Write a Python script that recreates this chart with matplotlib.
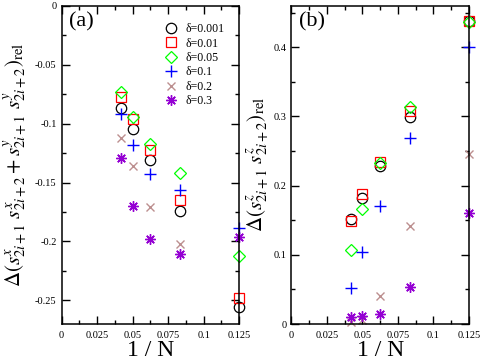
import numpy as np
import matplotlib
matplotlib.use("Agg")
import matplotlib.pyplot as plt
from matplotlib.ticker import MultipleLocator, FuncFormatter

plt.rcParams['font.family'] = ['Liberation Serif', 'DejaVu Serif']
plt.rcParams['mathtext.fontset'] = 'stix'
plt.rcParams['axes.unicode_minus'] = False

# 1/N for N = 24, 20, 16, 12, 8
inv_n = [1/24, 1/20, 1/16, 1/12, 1/8]

deltas = ["δ=0.001", "δ=0.01", "δ=0.05", "δ=0.1", "δ=0.2", "δ=0.3"]

# panel (a): xy correlation
xy_d0001 = [-0.0867, -0.1048, -0.1305, -0.1743, -0.2554]
xy_d001 = [-0.0777, -0.0963, -0.1226, -0.1644, -0.2483]
xy_d005 = [-0.0734, -0.0940, -0.1175, -0.1415, -0.2127]
xy_d01 = [-0.0915, -0.1178, -0.1427, -0.1560, -0.1884]
xy_d02 = [-0.1119, -0.1362, -0.1709, -0.2025, np.nan]
xy_d03 = [-0.1294, -0.1698, -0.1983, -0.2110, -0.1966]

# panel (b): zz correlation
zz_d0001 = [0.1518, 0.1817, 0.2289, 0.2998, 0.4386]
zz_d001 = [0.1494, 0.1880, 0.2347, 0.3084, 0.4380]
zz_d005 = [0.1070, 0.1658, 0.2323, 0.3142, 0.4361]
zz_d01 = [0.0525, 0.1036, 0.1711, 0.2684, 0.4010]
zz_d02 = [0.0030, 0.0060, 0.0410, 0.1422, 0.2453]
zz_d03 = [0.0106, 0.0120, 0.0140, 0.0540, 0.1600]

styles = [
    dict(marker='o', color='black', ms=7.5, mfc='none', mew=0.9),
    dict(marker='s', color='#ff0000', ms=6.8, mfc='none', mew=0.9),
    dict(marker='D', color='#00ff00', ms=6.0, mfc='none', mew=0.9),
    dict(marker='+', color='#0000ff', ms=8.0, mew=1.0),
    dict(marker='x', color='#bc8f8f', ms=5.5, mew=1.0),
    dict(marker=(8, 2, 0), color='#9400d3', ms=7.5, mew=1.0),
]

fig = plt.figure(figsize=(4.85, 3.6), dpi=100)
ax1 = fig.add_axes([0.127, 0.1, 0.366, 0.884])
ax2 = fig.add_axes([0.601, 0.1, 0.366, 0.884])

fmt = FuncFormatter(lambda v, p: "%g" % round(v, 4))

series_a = [xy_d0001, xy_d001, xy_d005, xy_d01, xy_d02, xy_d03]
series_b = [zz_d0001, zz_d001, zz_d005, zz_d01, zz_d02, zz_d03]

for ys, lab, st in zip(series_a, deltas, styles):
    ax1.plot(inv_n, ys, ls='none', label=lab, clip_on=False, **st)
for ys, st in zip(series_b, styles):
    ax2.plot(inv_n, ys, ls='none', clip_on=False, **st)

ax1.set_xlim(0, 0.125)
ax1.set_ylim(-0.27, 0)
ax2.set_xlim(0, 0.125)
ax2.set_ylim(0, 0.46)

ax1.yaxis.set_major_locator(MultipleLocator(0.05))
ax1.yaxis.set_minor_locator(MultipleLocator(0.025))
ax2.yaxis.set_major_locator(MultipleLocator(0.1))
ax2.yaxis.set_minor_locator(MultipleLocator(0.05))

for ax in (ax1, ax2):
    ax.xaxis.set_major_locator(MultipleLocator(0.025))
    ax.xaxis.set_minor_locator(MultipleLocator(0.0125))
    ax.xaxis.set_major_formatter(fmt)
    ax.yaxis.set_major_formatter(fmt)
    ax.tick_params(which='both', direction='in', top=True, right=True, labelsize=7.5, width=1.0)
    ax.tick_params(which='major', length=6)
    ax.tick_params(which='minor', length=3)
    ax.tick_params(axis='x', pad=5)
    for s in ax.spines.values():
        s.set_linewidth(1.1)
    ax.set_xlabel("1 / N", fontsize=17, labelpad=0)

ax1.set_ylabel(r"$\Delta(s^{x}_{2i+1}\ s^{x}_{2i+2} + s^{y}_{2i+1}\ s^{y}_{2i+2})_{\rm rel}$",
               fontsize=15, labelpad=4)
ax2.set_ylabel(r"$\Delta(s^{z}_{2i+1}\ s^{z}_{2i+2})_{\rm rel}$", fontsize=15, labelpad=1)

ax1.text(0.04, 0.948, "(a)", transform=ax1.transAxes, fontsize=16, va='center')
ax2.text(0.04, 0.948, "(b)", transform=ax2.transAxes, fontsize=16, va='center')

ax1.legend(loc='upper left', bbox_to_anchor=(0.585, 0.945), frameon=False,
           fontsize=8.5, handlelength=1.0, handletextpad=0.7, labelspacing=0.2,
           borderpad=0, borderaxespad=0, numpoints=1)

fig.savefig("out.png", dpi=100)
